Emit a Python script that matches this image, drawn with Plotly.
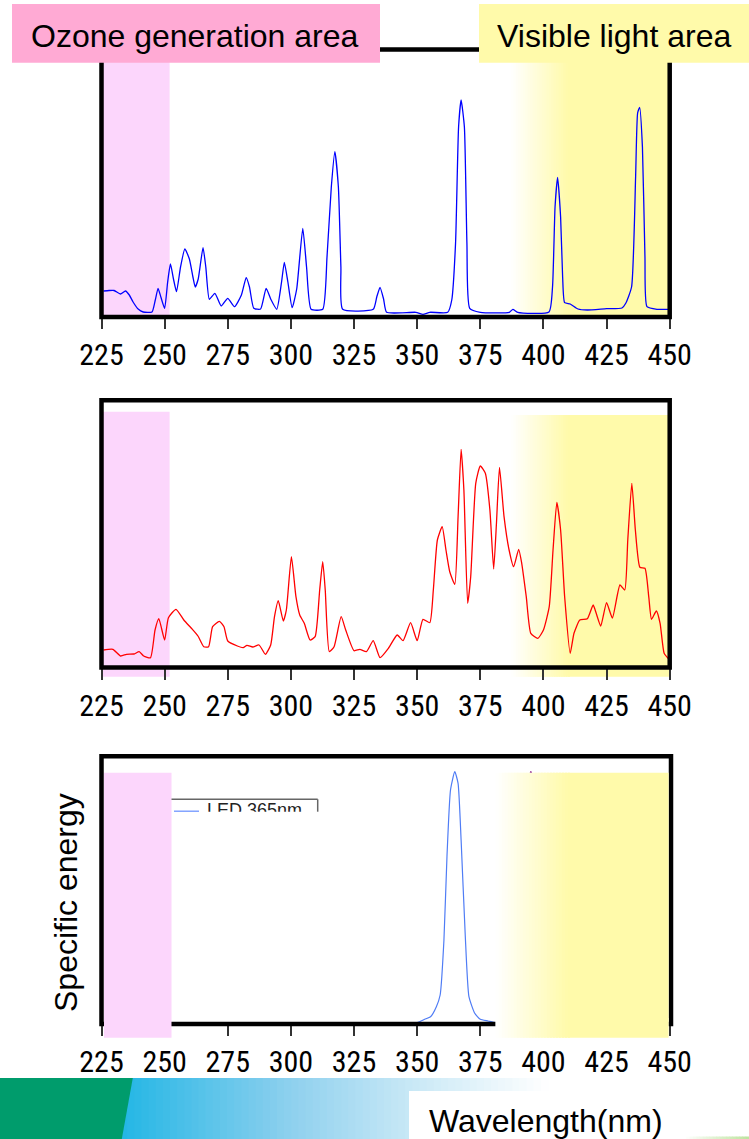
import plotly.graph_objects as go

W, H = 749, 1139

# ---------------- data (relative spectral energy, arbitrary units) ----------------
wl1 = [225.8, 228.0, 230.0, 232.5, 234.5, 236.0, 237.5, 239.5, 241.5, 245.0,
       246.3, 247.4, 248.5, 250.0, 251.2, 252.3, 253.5, 254.7, 256.3, 258.0,
       259.8, 261.2, 262.1, 263.3, 265.2, 266.3, 267.7, 269.9, 272.4, 275.0,
       277.7, 280.4, 282.3, 283.6, 285.3, 288.0, 290.2, 292.0, 294.4, 296.3,
       297.4, 298.8, 300.5, 302.3, 304.7, 306.2, 308.0, 312.6, 314.3, 316.0,
       317.4, 318.8, 319.8, 320.5, 332.6, 334.0, 335.3, 336.7, 337.9, 349.5,
       352.3, 355.0, 362.1, 363.7, 365.2, 366.4, 367.4, 368.7, 369.7, 370.8,
       375.0, 386.5, 387.9, 389.8, 402.2, 403.6, 404.6, 405.6, 406.8, 407.6,
       408.4, 410.6, 413.7, 417.4, 425.0, 431.1, 432.6, 434.9, 436.5, 437.3,
       438.1, 439.2, 440.2, 441.0, 445.0, 450.0]
e1 = [26.0, 26.5, 26.5, 23.0, 26.0, 22.0, 15.0, 8.0, 5.0, 5.0,
      17.0, 28.7, 20.0, 8.7, 35.0, 53.0, 38.0, 25.3, 50.0, 68.0,
      58.0, 40.0, 30.0, 38.0, 69.3, 50.0, 17.7, 23.7, 11.0, 18.7,
      10.3, 22.0, 39.3, 30.0, 8.7, 8.0, 28.7, 18.0, 7.7, 35.0,
      54.7, 35.0, 9.3, 28.0, 88.7, 50.0, 7.7, 7.7, 60.0, 130.0,
      165.3, 130.0, 50.0, 7.7, 7.7, 20.0, 29.7, 18.0, 4.7, 4.7,
      2.7, 4.7, 4.7, 17.0, 73.7, 190.0, 217.0, 190.0, 73.7, 8.7,
      4.7, 4.7, 7.7, 4.7, 5.0, 30.0, 110.0, 139.7, 100.0, 40.0,
      14.3, 13.0, 8.0, 7.0, 8.3, 9.0, 13.7, 30.0, 140.0, 204.0,
      209.7, 170.0, 60.0, 10.3, 7.7, 7.7]

wl2 = [225.8, 229.5, 232.6, 234.9, 237.9, 239.9, 241.7, 244.4, 246.2, 247.7,
       250.0, 251.5, 254.5, 257.6, 260.6, 263.2, 265.5, 267.4, 269.0, 271.7,
       273.5, 275.0, 278.8, 281.1, 282.6, 284.9, 287.4, 289.9, 292.0, 293.5,
       295.0, 297.0, 298.2, 300.2, 302.0, 303.5, 305.3, 307.6, 309.6, 311.4,
       312.6, 313.6, 315.2, 317.1, 319.9, 321.7, 325.0, 327.3, 329.9, 332.6,
       335.3, 338.6, 342.1, 344.4, 347.4, 350.0, 352.3, 355.0, 356.4, 358.0,
       359.9, 361.4, 362.9, 364.9, 366.2, 367.4, 368.5, 370.0, 371.2, 373.2,
       375.0, 377.0, 378.8, 380.3, 381.4, 382.6, 384.4, 386.4, 388.2, 390.2,
       391.4, 393.2, 395.0, 397.8, 400.0, 402.3, 403.8, 405.3, 406.8, 408.4,
       410.6, 412.1, 414.4, 417.4, 419.7, 420.9, 422.7, 425.0, 427.3, 430.3,
       432.2, 433.4, 435.0, 436.4, 438.2, 440.2, 441.7, 442.8, 444.7, 446.2,
       447.8, 449.7]
e2 = [17.5, 18.2, 11.5, 13.2, 13.5, 15.8, 11.5, 9.8, 37.5, 48.8,
      27.5, 49.8, 58.2, 47.5, 39.2, 31.5, 20.8, 20.8, 40.8, 46.2,
      40.8, 26.5, 21.5, 19.8, 22.2, 20.5, 22.5, 13.2, 22.5, 50.8,
      66.8, 46.5, 57.5, 110.8, 70.8, 52.5, 44.2, 27.5, 30.8, 77.5,
      105.8, 77.5, 15.8, 20.8, 50.8, 37.5, 16.8, 18.2, 15.8, 26.8,
      9.8, 19.2, 32.5, 26.8, 44.8, 26.8, 48.2, 44.8, 77.5, 127.5,
      140.8, 117.5, 95.8, 83.2, 150.8, 218.2, 177.5, 64.2, 90.8, 184.2,
      201.5, 194.2, 157.5, 98.5, 144.2, 200.2, 150.8, 117.5, 100.8, 118.2,
      104.2, 70.8, 34.2, 29.2, 37.5, 60.8, 117.5, 165.2, 137.5, 70.8,
      14.2, 34.2, 47.5, 48.8, 62.5, 54.2, 41.5, 64.8, 49.5, 82.5,
      77.5, 127.5, 184.2, 137.5, 100.2, 99.2, 70.8, 48.2, 56.5, 44.2,
      14.2, 8.2]

wl3 = [225.0, 340.0, 350.0, 353.0, 355.3, 357.6, 359.1, 360.6, 361.8, 363.2,
       364.9, 366.2, 367.4, 369.0, 370.5, 372.8, 375.0, 378.1, 381.1, 395.0]
e3 = [0.0, 0.0, 1.3, 4.7, 7.3, 17.3, 29.0, 84.0, 167.3, 234.0,
      252.3, 240.7, 184.0, 90.7, 27.3, 10.7, 4.7, 3.0, 1.3, 0.0]

wl3b = [394.3, 395.0, 395.7]
e3b = [246.0, 252.5, 246.0]

tick_vals = [225, 250, 275, 300, 325, 350, 375, 400, 425, 450]
tick_text = [str(v) for v in tick_vals]

legend_name = "LED 365nm"
header_left = "Ozone generation area"
header_right = "Visible light area"
y_title = "Specific energy"
x_title = "Wavelength(nm)"

# ---------------- helpers ----------------
def fx(x):
    return x / W


def fy(y):
    return 1 - y / H


PINK = "rgb(252,214,252)"
YEL = (255, 250, 170)
FONT = "Arial, Liberation Sans, sans-serif"
NARROW = "Liberation Sans Narrow, Arial Narrow, Roboto Condensed, Noto Sans Condensed, Open Sans Condensed, sans-serif"

shapes = []


def rect(x0, y0, x1, y1, color, layer="below", line=None):
    d = dict(type="rect", xref="paper", yref="paper",
             x0=fx(x0), x1=fx(x1), y0=fy(y1), y1=fy(y0),
             fillcolor=color, layer=layer, line=dict(width=0))
    if line:
        d["line"] = line
    shapes.append(d)


def hline(x0, x1, y, color, width, layer="above"):
    shapes.append(dict(type="line", xref="paper", yref="paper", x0=fx(x0), x1=fx(x1),
                       y0=fy(y), y1=fy(y), line=dict(color=color, width=width), layer=layer))


def vline(x, y0, y1, color, width, layer="above"):
    shapes.append(dict(type="line", xref="paper", yref="paper", x0=fx(x), x1=fx(x),
                       y0=fy(y0), y1=fy(y1), line=dict(color=color, width=width), layer=layer))


def yellow(x0, xs, x1, y0, y1, layer):
    n = 24
    step = (xs - x0) / n
    for i in range(n):
        t = (i + 0.5) / n
        c = tuple(round(255 + (YEL[k] - 255) * t) for k in range(3))
        rect(x0 + i * step, y0, x0 + (i + 1) * step + 2.0, y1, "rgb(%d,%d,%d)" % c, layer)
    rect(xs, y0, x1, y1, "rgb(%d,%d,%d)" % YEL, layer)


XL, XR = 101.5, 669.7
P1 = (49.5, 317.0)
P2 = (400.3, 667.5)
P3 = (756.2, 1024.0)
FW = 4.5

# panel 1 backgrounds
rect(XL, P1[0], 169.6, P1[1], PINK)
yellow(511, 568, 668.5, P1[0], P1[1], "below")
# panel 2 backgrounds
rect(XL, 411.7, 169.6, 676.7, PINK)
yellow(511, 568, 670, 415, 676.7, "below")
# frames 1 and 2
for (t, b) in (P1, P2):
    shapes.append(dict(type="rect", xref="paper", yref="paper", x0=fx(XL), x1=fx(XR),
                       y0=fy(b), y1=fy(t), line=dict(color="black", width=FW), layer="above"))
# panel 3 frame, then overlays
shapes.append(dict(type="rect", xref="paper", yref="paper", x0=fx(XL), x1=fx(671),
                   y0=fy(P3[1]), y1=fy(P3[0]), line=dict(color="black", width=FW), layer="above"))
rect(104, 772.7, 171.5, 1037.7, PINK, "above")
rect(495.6, 1018, 668.6, 1037.7, "white", "above")
yellow(495.6, 568, 668.6, 772.7, 1037.7, "above")

# truncated legend box
rect(172.5, 811.7, 317, 840, "white", "above")
hline(171.5, 317.7, 799.3, "#666666", 1.5)
vline(317.7, 799.3, 811.7, "#666666", 1.5)
hline(174, 199, 811.2, "#6f95ff", 1.3)

# header boxes
rect(12, 4, 380, 62.7, "rgb(255,170,212)", "above")
rect(479, 4, 749, 62.7, "rgb(255,250,170)", "above")

# bottom banner gradient
stops = [(120, (34, 182, 229)), (290, (142, 208, 238)), (410, (200, 232, 246)), (548, (255, 255, 255))]
n = 60
for i in range(n):
    x0 = 120 + (548 - 120) * i / n
    x1 = 120 + (548 - 120) * (i + 1) / n
    xm = (x0 + x1) / 2
    for j in range(len(stops) - 1):
        if stops[j][0] <= xm <= stops[j + 1][0]:
            a, ca = stops[j]
            b, cb = stops[j + 1]
            t = (xm - a) / (b - a)
            c = tuple(round(ca[k] + (cb[k] - ca[k]) * t) for k in range(3))
    rect(x0, 1078, x1 + 1.5, 1139, "rgb(%d,%d,%d)" % c, "above")
shapes.append(dict(type="path", xref="paper", yref="paper", layer="above",
                   path="M 0,%f L %f,%f L %f,0 L 0,0 Z" % (fy(1078), fx(132.8), fy(1078), fx(121.8)),
                   fillcolor="rgb(0,156,108)", line=dict(width=0)))
rect(409, 1091, 749, 1139, "white", "above")
for i in range(20):
    t = i / 19
    c = tuple(round(255 + (v - 255) * t) for v in (190, 228, 160))
    rect(683 + i * 3.3, 1136.5, 683 + (i + 1) * 3.3 + 0.5, 1139, "rgb(%d,%d,%d)" % c, "above")

# ---------------- traces ----------------
fig = go.Figure()
fig.add_trace(go.Scatter(x=wl1, y=e1, mode="lines", xaxis="x", yaxis="y",
                         line=dict(color="#0000ff", width=1.3, shape="spline", smoothing=0.5),
                         showlegend=False, hoverinfo="skip"))
fig.add_trace(go.Scatter(x=wl2, y=e2, mode="lines", xaxis="x2", yaxis="y2",
                         line=dict(color="#ff0000", width=1.3, shape="spline", smoothing=0.5),
                         showlegend=False, hoverinfo="skip"))
fig.add_trace(go.Scatter(x=wl3, y=e3, mode="lines", xaxis="x3", yaxis="y3",
                         line=dict(color="#4f7cf5", width=1.2, shape="spline", smoothing=0.5),
                         showlegend=False, hoverinfo="skip"))
fig.add_trace(go.Scatter(x=wl3b, y=e3b, mode="lines", xaxis="x3", yaxis="y3",
                         line=dict(color="#8b1a8b", width=1.3),
                         showlegend=False, hoverinfo="skip"))
fig.add_trace(go.Scatter(x=[285.6], y=[212.5], mode="text", text=[legend_name], xaxis="x3", yaxis="y3",
                         textfont=dict(family=FONT, size=18, color="#222"), textposition="middle center",
                         showlegend=False, hoverinfo="skip"))

xa = dict(range=[225, 450], tickvals=tick_vals, ticktext=tick_text, ticks="outside",
          ticklen=11, tickwidth=1.8, tickcolor="#333333", showgrid=False, zeroline=False,
          showline=False, automargin=False, tickfont=dict(family=NARROW, size=30, color="black"),
          domain=[fx(XL), fx(XR)], fixedrange=True)
ya = dict(visible=False, showgrid=False, zeroline=False, automargin=False, fixedrange=True)

layout = dict(width=W, height=H, margin=dict(l=0, r=0, t=0, b=0, pad=0, autoexpand=False), autosize=False,
              paper_bgcolor="white", plot_bgcolor="rgba(0,0,0,0)", shapes=shapes, showlegend=False)
layout["xaxis"] = dict(xa, anchor="y")
layout["yaxis"] = dict(ya, anchor="x", domain=[fy(P1[1]), fy(P1[0])], range=[0, P1[1] - P1[0]])
layout["xaxis2"] = dict(xa, anchor="y2")
layout["yaxis2"] = dict(ya, anchor="x2", domain=[fy(P2[1]), fy(P2[0])], range=[0, P2[1] - P2[0]])
layout["xaxis3"] = dict(xa, anchor="y3")
layout["yaxis3"] = dict(ya, anchor="x3", domain=[fy(P3[1]), fy(P3[0])], range=[0, P3[1] - P3[0]])

anns = [
    dict(text=header_left, x=fx(194.5), y=fy(36), xref="paper", yref="paper", showarrow=False,
         font=dict(family=FONT, size=32, color="black"), xanchor="center", yanchor="middle"),
    dict(text=header_right, x=fx(614), y=fy(36), xref="paper", yref="paper", showarrow=False,
         font=dict(family=FONT, size=32, color="black"), xanchor="center", yanchor="middle"),
    dict(text=y_title, x=fx(66), y=fy(903), xref="paper", yref="paper", showarrow=False, textangle=-90,
         font=dict(family=FONT, size=32, color="black"), xanchor="center", yanchor="middle"),
    dict(text=x_title, x=fx(546), y=fy(1121), xref="paper", yref="paper", showarrow=False,
         font=dict(family=FONT, size=32, color="black"), xanchor="center", yanchor="middle"),
]
layout["annotations"] = anns

fig.update_layout(**layout)
fig.write_html("out.html", config={"displayModeBar": False},
               post_script="document.body.style.margin='0';document.body.style.overflow='hidden';")
